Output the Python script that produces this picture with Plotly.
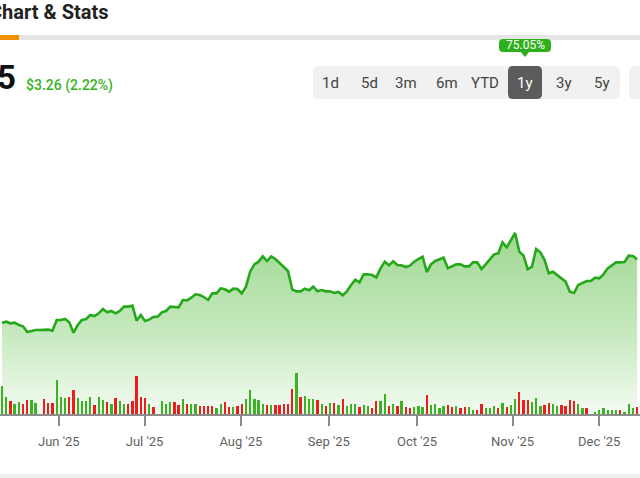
import plotly.graph_objects as go

# ---------------- data (trading-day index) ----------------
prices = [131.1, 131.4, 130.9, 131.1, 130.4, 130.0, 128.3, 128.7, 128.9, 128.9,
          128.9, 129.0, 128.7, 131.9, 131.9, 132.2, 131.2, 128.1, 130.4, 131.9,
          132.2, 133.4, 133.1, 133.9, 135.2, 134.2, 134.6, 133.9, 134.6, 135.9,
          135.9, 136.2, 131.7, 133.4, 131.6, 132.0, 132.8, 132.9, 134.2, 134.6,
          135.9, 135.8, 135.7, 137.9, 137.8, 138.6, 139.6, 139.4, 138.8, 137.9,
          139.9, 139.9, 141.4, 141.1, 140.4, 141.3, 141.2, 139.9, 141.9, 146.4,
          148.6, 149.4, 151.0, 149.6, 151.0, 150.2, 148.9, 147.6, 146.6, 141.1,
          140.5, 140.5, 141.3, 140.8, 141.9, 140.5, 140.9, 140.5, 140.5, 140.0,
          140.3, 139.3, 140.5, 142.4, 144.0, 143.2, 145.6, 145.6, 145.4, 144.7,
          147.4, 149.4, 148.3, 149.5, 148.4, 148.3, 147.8, 148.2, 149.4, 150.2,
          150.9, 146.3, 148.6, 149.6, 150.0, 150.6, 147.4, 148.0, 148.6, 148.6,
          148.0, 148.0, 149.2, 149.2, 147.2, 148.6, 150.0, 151.6, 151.9, 155.2,
          153.7, 155.9, 158.0, 152.4, 151.2, 147.1, 147.9, 153.2, 152.2, 149.9,
          145.9, 146.4, 145.4, 144.2, 143.4, 140.4, 140.0, 142.4, 142.9, 143.6,
          143.6, 144.6, 144.4, 145.6, 147.4, 148.2, 149.2, 149.2, 149.3, 151.2,
          151.1, 150.1]

volumes = [8.3, 5.1, 3.8, 3.0, 3.7, 3.1, 4.1, 4.1, 3.4, None,
           4.4, 3.4, 3.4, 10.3, 5.1, 4.8, 5.2, 7.2, 4.8, 3.8,
           3.8, 5.1, 2.8, 5.1, 4.1, 3.7, 3.1, 4.8, 3.8, 3.1,
           3.1, 3.8, 11.3, 5.1, 4.8, 3.1, 2.1, None, 3.8, 3.1,
           3.5, 3.5, 2.8, 4.4, 3.1, 3.1, 3.1, 2.5, 2.5, 2.5,
           2.5, 1.7, 3.0, 3.5, 2.0, 2.0, 2.3, 3.1, 4.4, 7.2,
           4.4, 4.1, 3.1, 2.8, 2.8, 2.8, 2.8, 3.1, 3.1, 7.6,
           12.4, 5.1, 5.4, 4.4, 4.4, 4.1, 3.1, 2.4, 3.4, 3.4,
           2.7, 4.4, 2.3, 3.1, 3.1, 2.0, 2.8, 2.4, 1.7, 3.8,
           3.8, 5.9, 2.4, 3.1, 2.4, 3.8, 2.1, 1.8, 2.1, 2.3,
           2.0, 5.8, 2.7, 3.0, 1.7, 2.4, 2.8, 2.0, 2.4, 1.7,
           2.0, 2.0, 1.3, 1.3, 3.1, 1.7, 1.7, 2.4, 1.7, 3.4,
           2.0, 2.8, 4.4, 6.5, 4.1, 4.1, 3.7, 4.8, 2.4, 2.7,
           3.4, 3.1, 2.4, 2.7, 2.4, 4.1, 3.8, 3.1, 1.7, 1.7,
           None, 0.6, 1.3, 1.7, 1.3, 1.3, 1.3, 1.3, 0.6, 3.1,
           1.7, 2.0]

# G = up day, R = down day, - = no bar
directions = list(
    "GGRGGRRGG-RRRGGGRRGGGGRGGRGRGGRRRRRGR-GGGRRGRGGRRRR"   # 0-50
    "GGRRGRRGGGGGRGRRRRRGRGGGRGRGRGRGGGRGGRRGGRGRGRRGGG"    # 51-100
    "RGGGGRRGRRGGRRGGGRGRGGRRRGGGRRGGRRRRGGR-GGGGGGRGGGR"   # 101-151
)

tick_pos = [13.5, 33.9, 56.8, 77.7, 98.7, 121.4, 142.0]
tick_labels = ["Jun '25", "Jul '25", "Aug '25", "Sep '25", "Oct '25", "Nov '25", "Dec '25"]

range_labels = ["1d", "5d", "3m", "6m", "YTD", "1y", "3y", "5y"]
selected_range = "1y"
change_text = "$3.26 (2.22%)"
range_return = "75.05%"

# ---------------- figure ----------------
W, H = 640, 478
PLOT_TOP, PLOT_BOTTOM = 110, 414
PH = PLOT_BOTTOM - PLOT_TOP


def X(px):
    return px / W


def Y(py):
    return (PLOT_BOTTOM - py) / PH


idx = list(range(len(prices)))
GREEN_LINE = "#25a91b"
UP = "#39b420"
DOWN = "#ee1d1d"

price_lo = 103.7
price_hi = price_lo + PH * 0.3

fig = go.Figure()
fig.add_trace(go.Scatter(
    x=idx, y=prices, mode="lines",
    line=dict(color=GREEN_LINE, width=2.6),
    fill="tozeroy",
    fillgradient=dict(type="vertical", start=price_lo, stop=max(prices),
                      colorscale=[[0, "#f3fbf2"], [0.45, "#c6e9be"], [1, "#a0d893"]]),
    hoverinfo="skip", showlegend=False,
))

bar_colors = [UP if d == "G" else DOWN for d in directions]
fig.add_trace(go.Bar(
    x=idx, y=volumes, marker=dict(color=bar_colors, line=dict(width=0)),
    width=0.55, yaxis="y2", hoverinfo="skip", showlegend=False,
))

font_family = "Roboto, Arial, sans-serif"

fig.update_layout(
    width=W, height=H,
    margin=dict(l=0, r=0, t=PLOT_TOP, b=H - PLOT_BOTTOM, pad=0),
    paper_bgcolor="white", plot_bgcolor="white",
    font=dict(family=font_family),
    hovermode=False,
    bargap=0,
    xaxis=dict(range=[-0.476, 151.69], showgrid=False, zeroline=False,
               showline=True, linecolor="#8c8c8c", linewidth=2,
               ticks="outside", ticklen=10, tickwidth=2, tickcolor="#8c8c8c",
               tickvals=tick_pos, ticktext=tick_labels,
               tickfont=dict(size=13, color="#626262", family=font_family),
               ticklabelstandoff=4),
    yaxis=dict(range=[price_lo, price_hi], visible=False, showgrid=False, zeroline=False),
    yaxis2=dict(range=[0, PH * 0.3], overlaying="y", visible=False, showgrid=False,
                zeroline=False),
)


def rrect(x0, y0, x1, y1, r):
    pts = [
        f"M {X(x0 + r)},{Y(y0)}", f"L {X(x1 - r)},{Y(y0)}",
        f"Q {X(x1)},{Y(y0)} {X(x1)},{Y(y0 + r)}", f"L {X(x1)},{Y(y1 - r)}",
        f"Q {X(x1)},{Y(y1)} {X(x1 - r)},{Y(y1)}", f"L {X(x0 + r)},{Y(y1)}",
        f"Q {X(x0)},{Y(y1)} {X(x0)},{Y(y1 - r)}", f"L {X(x0)},{Y(y0 + r)}",
        f"Q {X(x0)},{Y(y0)} {X(x0 + r)},{Y(y0)}", "Z",
    ]
    return " ".join(pts)


shapes = []
# tab underline
shapes.append(dict(type="rect", xref="paper", yref="paper", x0=X(0), x1=X(W),
                   y0=Y(40), y1=Y(35), fillcolor="#e6e6e6", line=dict(width=0)))
shapes.append(dict(type="rect", xref="paper", yref="paper", x0=X(0), x1=X(19),
                   y0=Y(40), y1=Y(35), fillcolor="#f39200", line=dict(width=0)))
# button group
shapes.append(dict(type="path", xref="paper", yref="paper", path=rrect(313, 66, 620, 99, 6),
                   fillcolor="#f1f1f1", line=dict(width=0)))
shapes.append(dict(type="path", xref="paper", yref="paper", path=rrect(629, 66, 660, 99, 6),
                   fillcolor="#f1f1f1", line=dict(width=0)))
shapes.append(dict(type="path", xref="paper", yref="paper", path=rrect(508, 66, 542, 99, 5),
                   fillcolor="#5b5b5b", line=dict(width=0)))
# tooltip
shapes.append(dict(type="path", xref="paper", yref="paper", path=rrect(499, 39, 551, 52, 4),
                   fillcolor="#2eb01c", line=dict(width=0)))
shapes.append(dict(type="path", xref="paper", yref="paper",
                   path=f"M {X(520)},{Y(51)} L {X(530)},{Y(51)} L {X(525)},{Y(57)} Z",
                   fillcolor="#2eb01c", line=dict(width=0)))
# bottom separator
shapes.append(dict(type="rect", xref="paper", yref="paper", x0=X(0), x1=X(W),
                   y0=Y(478), y1=Y(474), fillcolor="#efefef", line=dict(width=0)))
fig.update_layout(shapes=shapes)

ann = []
ann.append(dict(text="<b>Chart & Stats</b>", x=X(111), y=Y(12), xref="paper", yref="paper",
                xanchor="right", yanchor="middle", showarrow=False,
                font=dict(size=20, color="#222222", family=font_family)))
ann.append(dict(text="<b>5</b>", x=X(18), y=Y(78), xref="paper", yref="paper",
                xanchor="right", yanchor="middle", showarrow=False,
                font=dict(size=33, color="#111111", family=font_family)))
ann.append(dict(text=change_text, x=X(24), y=Y(85), xref="paper", yref="paper",
                xanchor="left", yanchor="middle", showarrow=False,
                font=dict(size=14, color="#35b323", family=font_family, weight=500)))
centers = [330, 369, 406, 447, 485, 525, 564, 602]
for lab, cx in zip(range_labels, centers):
    ann.append(dict(text=lab, x=X(cx), y=Y(83), xref="paper", yref="paper",
                    xanchor="center", yanchor="middle", showarrow=False,
                    font=dict(size=15, color="#ffffff" if lab == selected_range else "#444444",
                              family=font_family)))
ann.append(dict(text=range_return, x=X(525), y=Y(45.5), xref="paper", yref="paper",
                xanchor="center", yanchor="middle", showarrow=False,
                font=dict(size=12, color="#ffffff", family=font_family)))
fig.update_layout(annotations=ann)

fig.write_html("out.html", config={"displayModeBar": False, "staticPlot": True})
